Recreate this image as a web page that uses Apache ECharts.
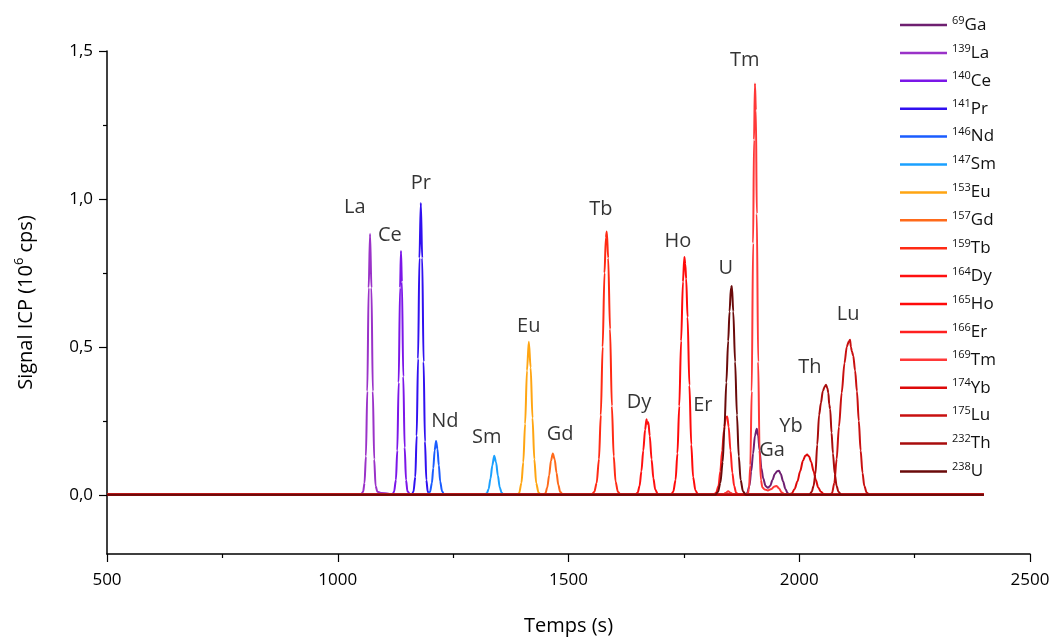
<!DOCTYPE html>
<html><head><meta charset="utf-8">
<script src="https://cdn.jsdelivr.net/npm/echarts@6/dist/echarts.min.js"></script>
<style>html,body{margin:0;padding:0;background:#fff}#c{width:1051px;height:637px}</style>
</head><body><div id="c"></div>
<script>
// ---- data (time s, signal 10^6 cps) ----
const isotopes = ['69Ga','139La','140Ce','141Pr','146Nd','147Sm','153Eu','157Gd','159Tb','164Dy','165Ho','166Er','169Tm','174Yb','175Lu','232Th','238U'];
const Ga = [[500,0],[1882,0],[1887,0.005],[1892,0.03],[1896,0.08],[1900,0.14],[1904,0.2],[1908,0.223],[1911,0.2],[1914,0.15],[1918,0.09],[1922,0.055],[1927,0.03],[1932,0.024],[1937,0.03],[1942,0.05],[1947,0.07],[1952,0.08],[1956,0.081],[1960,0.07],[1965,0.045],[1970,0.02],[1975,0.005],[1980,0],[2400,0]];
const La = [[500,0],[1050,0],[1055,0.01],[1058,0.04],[1061,0.13],[1064,0.35],[1067,0.7],[1070,0.882],[1073,0.7],[1076,0.35],[1079,0.12],[1082,0.03],[1086,0.01],[1095,0.006],[1110,0.004],[1120,0],[2400,0]];
const Ce = [[500,0],[1118,0],[1122,0.01],[1126,0.05],[1129,0.15],[1132,0.38],[1135,0.7],[1137,0.824],[1139,0.72],[1142,0.4],[1145,0.16],[1148,0.05],[1151,0.012],[1156,0.003],[1162,0],[2400,0]];
const Pr = [[500,0],[1160,0],[1164,0.01],[1168,0.06],[1171,0.2],[1174,0.46],[1177,0.8],[1180,0.986],[1183,0.8],[1186,0.45],[1189,0.18],[1192,0.05],[1195,0.01],[1200,0],[2400,0]];
const Nd = [[500,0],[1195,0],[1200,0.01],[1204,0.04],[1207,0.09],[1210,0.15],[1213,0.182],[1216,0.155],[1219,0.1],[1222,0.045],[1226,0.012],[1231,0],[2400,0]];
const Sm = [[500,0],[1318,0],[1323,0.005],[1327,0.02],[1331,0.055],[1335,0.1],[1339,0.132],[1343,0.11],[1347,0.065],[1351,0.025],[1355,0.007],[1360,0],[2400,0]];
const Eu = [[500,0],[1388,0],[1393,0.005],[1398,0.04],[1402,0.11],[1406,0.24],[1410,0.42],[1414,0.517],[1418,0.43],[1422,0.26],[1426,0.12],[1430,0.04],[1435,0.008],[1440,0],[2400,0]];
const Gd = [[500,0],[1446,0],[1450,0.005],[1454,0.025],[1458,0.065],[1462,0.115],[1466,0.14],[1470,0.12],[1474,0.075],[1478,0.033],[1482,0.01],[1488,0],[2400,0]];
const Tb = [[500,0],[1550,0],[1556,0.01],[1561,0.04],[1566,0.12],[1570,0.27],[1574,0.5],[1578,0.75],[1581,0.87],[1583,0.89],[1586,0.8],[1590,0.56],[1594,0.3],[1598,0.13],[1602,0.045],[1607,0.01],[1613,0],[2400,0]];
const Dy = [[500,0],[1645,0],[1650,0.008],[1654,0.03],[1658,0.08],[1662,0.15],[1666,0.22],[1669,0.255],[1671,0.24],[1673,0.245],[1676,0.2],[1680,0.12],[1684,0.055],[1688,0.018],[1693,0.004],[1698,0],[2400,0]];
const Ho = [[500,0],[1722,0],[1727,0.01],[1732,0.05],[1736,0.14],[1740,0.3],[1744,0.52],[1748,0.72],[1751,0.804],[1753,0.78],[1755,0.73],[1758,0.6],[1762,0.37],[1766,0.17],[1770,0.06],[1775,0.015],[1781,0],[2400,0]];
const Er = [[500,0],[1815,0],[1820,0.008],[1825,0.03],[1829,0.08],[1833,0.15],[1837,0.22],[1841,0.262],[1844,0.265],[1847,0.23],[1851,0.15],[1855,0.075],[1859,0.03],[1863,0.008],[1868,0],[2400,0]];
const Tm = [[500,0],[1835,0],[1840,0.006],[1846,0.012],[1852,0.006],[1858,0],[1888,0],[1891,0.02],[1894,0.1],[1897,0.35],[1900,0.85],[1902,1.2],[1904,1.39],[1906,1.3],[1908,0.95],[1911,0.45],[1914,0.15],[1917,0.05],[1920,0.025],[1925,0.018],[1932,0.015],[1940,0.02],[1946,0.028],[1951,0.03],[1956,0.022],[1962,0.008],[1970,0],[2400,0]];
const Yb = [[500,0],[1978,0],[1984,0.005],[1990,0.02],[1996,0.045],[2002,0.08],[2008,0.115],[2013,0.132],[2017,0.136],[2021,0.13],[2026,0.11],[2031,0.08],[2036,0.05],[2041,0.025],[2047,0.01],[2053,0.003],[2058,0],[2400,0]];
const Lu = [[500,0],[2066,0],[2071,0.005],[2076,0.04],[2081,0.12],[2086,0.23],[2092,0.345],[2098,0.445],[2103,0.5],[2107,0.517],[2110,0.524],[2112,0.5],[2114,0.485],[2117,0.47],[2121,0.42],[2125,0.35],[2129,0.25],[2133,0.15],[2137,0.075],[2141,0.03],[2146,0.008],[2152,0],[2400,0]];
const Th = [[500,0],[2022,0],[2027,0.01],[2031,0.03],[2035,0.07],[2039,0.17],[2043,0.27],[2047,0.31],[2051,0.35],[2055,0.365],[2058,0.372],[2061,0.36],[2063,0.345],[2065,0.305],[2067,0.29],[2070,0.21],[2073,0.14],[2077,0.07],[2081,0.03],[2085,0.01],[2091,0],[2400,0]];
const U = [[500,0],[1818,0],[1824,0.01],[1829,0.04],[1834,0.11],[1838,0.23],[1842,0.38],[1846,0.52],[1849,0.62],[1852,0.7],[1854,0.706],[1857,0.62],[1861,0.45],[1865,0.27],[1869,0.13],[1873,0.05],[1878,0.012],[1884,0],[2400,0]];
// peak annotations: [text, time, signal]
const peakLabels = [['La',1037,0.973],['Ce',1113,0.878],['Pr',1180,1.054],['Nd',1232,0.247],['Sm',1323,0.193],['Eu',1414,0.571],['Gd',1482,0.203],['Tb',1570,0.966],['Dy',1653,0.314],['Ho',1737,0.858],['Er',1791,0.304],['U',1841,0.767],['Tm',1882,1.47],['Ga',1941,0.149],['Yb',1982,0.23],['Th',2023,0.432],['Lu',2106,0.611]];
const yTicks = [0,0.5,1.0,1.5];
const yMinorTicks = [0.25,0.75,1.25];

const seriesData = [Ga,La,Ce,Pr,Nd,Sm,Eu,Gd,Tb,Dy,Ho,Er,Tm,Yb,Lu,Th,U];
const colors = ['#6e1f70','#9a32c8','#7b16e8','#3010f0','#1a5cff','#1aa0ff','#ffa512','#ff6a1a','#ff2a14','#ff1010','#ff0a0a','#ff2020','#ff3838','#dd0a0a','#c81010','#a80c0c','#6a0a0a'];

const FONT = '"Open Sans", "Noto Sans", sans-serif';
const chart = echarts.init(document.getElementById('c'), null, {renderer:'canvas'});
const series = seriesData.map((d,i)=>({
  name: isotopes[i], type:'line', data:d, symbol:'none', showSymbol:false,
  smooth:0.3, smoothMonotone:'x', color:colors[i], lineStyle:{width:2, color:colors[i]},
  animation:false, z: 2+i/100
}));
series.push({
  type:'scatter', data: peakLabels.map(p=>({name:p[0], value:[p[1],p[2]]})),
  symbolSize:0, silent:true, animation:false, z:10,
  label:{show:true, position:'inside', formatter:p=>p.name, fontFamily:FONT, fontSize:20, color:'#000'}
});
const supNum = s => { const m = s.match(/^(\d+)(.*)$/); return '{s|'+m[1]+'}{n|'+m[2]+'}'; };
chart.setOption({
  animation:false,
  backgroundColor:'#fff',
  grid:{left:107, right:21, top:51, bottom:83, containLabel:false, outerBoundsMode:'none'},
  legend:{
    orient:'vertical', left:895, top:10, itemWidth:47, itemHeight:2.5, itemGap:9.4, icon:'rect',
    data: isotopes,
    formatter: name => supNum(name),
    textStyle:{fontFamily:FONT, color:'#111',
      rich:{ s:{fontSize:11, fontFamily:FONT, color:'#111', verticalAlign:'top', lineHeight:14},
             n:{fontSize:17, fontFamily:FONT, color:'#111', lineHeight:20}}}
  },
  xAxis:{
    type:'value', min:500, max:2500, interval:500,
    name:'Temps (s)', nameLocation:'middle', nameGap:62,
    nameTextStyle:{fontFamily:FONT, fontSize:20, color:'#000'},
    axisLine:{onZero:false, lineStyle:{color:'#000', width:1.5}},
    axisTick:{length:8, lineStyle:{color:'#000', width:1.2}},
    minorTick:{show:true, splitNumber:2, length:4, lineStyle:{color:'#000', width:1.2}},
    axisLabel:{fontFamily:FONT, fontSize:17, color:'#000', margin:18, formatter:v=>String(v)},
    splitLine:{show:false}
  },
  yAxis:[{
    type:'value', min:-0.2, max:1.5,
    name:'{a|Signal ICP (10}{s|6}{a| cps)}', nameLocation:'middle', nameGap:68, nameRotate:90,
    nameTextStyle:{fontFamily:FONT, color:'#000',
      rich:{a:{fontSize:20, fontFamily:FONT, color:'#000', lineHeight:26},
            s:{fontSize:13, fontFamily:FONT, color:'#000', verticalAlign:'top', lineHeight:16}}},
    axisLine:{onZero:false, lineStyle:{color:'#000', width:1.5}},
    axisTick:{show:true, length:8, customValues:yTicks, lineStyle:{color:'#000', width:1.2}},
    axisLabel:{fontFamily:FONT, fontSize:17, color:'#000', margin:14, customValues:yTicks,
      formatter:v=>v.toFixed(1).replace('.',',')},
    splitLine:{show:false}
  },{
    type:'value', min:-0.2, max:1.5, position:'left',
    axisLine:{show:false, onZero:false},
    axisTick:{show:true, length:4, customValues:yMinorTicks, lineStyle:{color:'#000', width:1.2}},
    axisLabel:{show:false, customValues:yMinorTicks},
    splitLine:{show:false}
  }],
  series: series
});
</script></body></html>
